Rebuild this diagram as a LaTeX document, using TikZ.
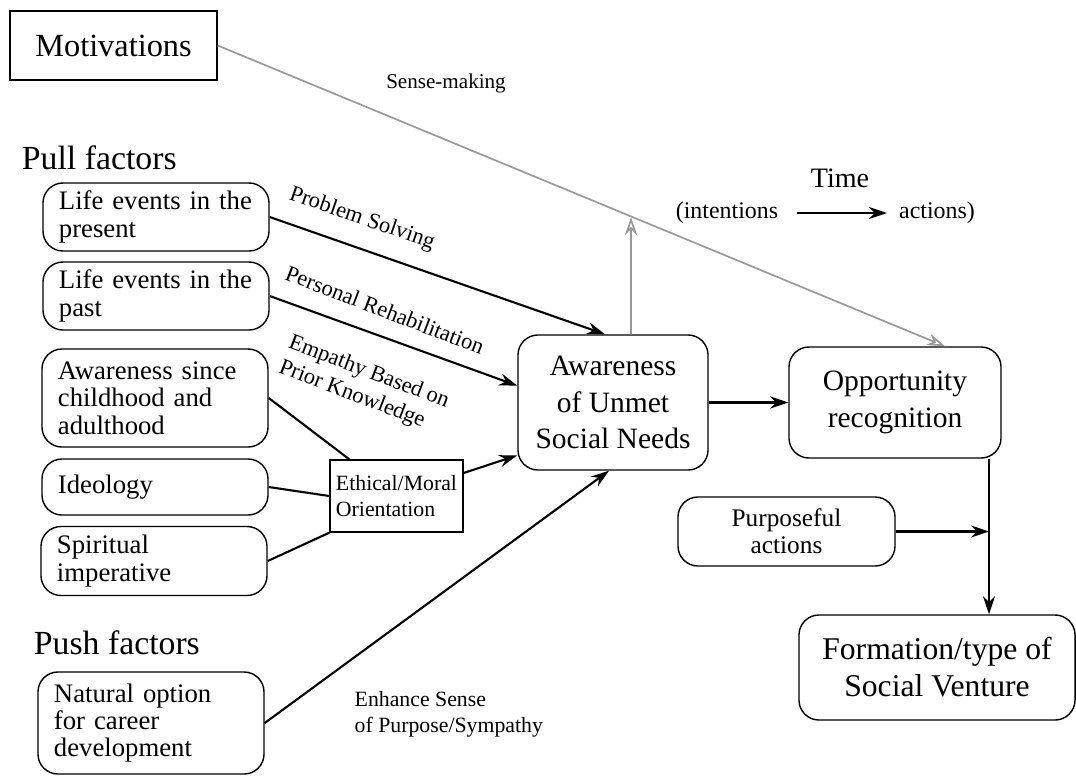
\documentclass[tikz,border=0pt]{standalone}
\usepackage{fontspec}
\setmainfont{Liberation Serif}
\usetikzlibrary{arrows.meta}

\def\s{0.025}
\def\ort#1#2{({(#1)*\s},{(-#2)*\s})}

\tikzset{
	faktor/.style={draw, line width=1pt, rounded corners=0.5cm, align=left,
		text width=4.85cm, inner xsep=0.4cm, font=\fontsize{19}{19.5}\selectfont},
	haupt/.style={draw, line width=1pt, rounded corners=0.5cm, align=center,
		font=\fontsize{21}{26.2}\selectfont},
	titel/.style={font=\fontsize{24}{28}\selectfont},
	klein/.style={font=\fontsize{16}{19}\selectfont, align=left, inner sep=1pt},
	pfeil/.style={-{Stealth[length=0.45cm,width=0.3cm]}, line width=1.5pt},
	grau/.style={-{Stealth[open,length=0.45cm,width=0.3cm]}, line width=1.2pt, black!40},
}

\begin{document}
\begin{tikzpicture}
\useasboundingbox \ort{0}{0} rectangle \ort{1076}{776};

% Kopf
\node[draw, line width=1pt, minimum width=5.175cm, minimum height=1.725cm,
	font=\fontsize{23}{26}\selectfont] (motiv) at \ort{113.5}{45.5} {Motivations};
\node[font=\fontsize{15}{18}\selectfont] (sinn) at \ort{446}{83} {Sense-making};
\node[titel, anchor=west] (zug) at \ort{17}{158} {Pull factors};
\node[titel, anchor=west] (druck) at \ort{29}{643} {Push factors};

% Faktoren
\node[faktor, minimum height=1.7cm] (gegenwart) at \ort{156}{217} {Life events in the\\present};
\node[faktor, minimum height=1.7cm] (vergangenheit) at \ort{156}{296} {Life events in the\\past};
\node[faktor, minimum height=2.45cm] (kindheit) at \ort{155}{398} {Awareness since\\childhood and\\adulthood};
\node[faktor, minimum height=1.4cm] (ideologie) at \ort{155}{487} {Ideology};
\node[faktor, minimum height=1.725cm] (spirituell) at \ort{154}{561} {Spiritual\\imperative};
\node[faktor, minimum height=2.55cm] (karriere) at \ort{151}{723} {Natural option\\for career\\development};

\node[draw, line width=1pt, align=left, minimum width=3.325cm, minimum height=1.8cm,
	inner xsep=0.15cm, font=\fontsize{15.5}{18.5}\selectfont] (ethik) at \ort{396.5}{496}
	{Ethical/Moral\\Orientation};

% Mitte und rechts
\node[haupt, minimum width=4.75cm, minimum height=3.375cm] (bewusstsein) at \ort{613}{402.5}
	{Awareness\\of Unmet\\Social Needs};
\node[haupt, minimum width=5.3cm, minimum height=2.775cm] (chance) at \ort{895}{402.5}
	{Opportunity\\recognition};
\node[haupt, minimum width=5.425cm, minimum height=1.725cm,
	font=\fontsize{18}{19}\selectfont] (zweck) at \ort{786.5}{531.5} {Purposeful\\actions};
\node[haupt, minimum width=6.9cm, minimum height=2.625cm,
	font=\fontsize{22.5}{26.2}\selectfont] (gruendung) at \ort{937}{667.5}
	{Formation/type of\\Social Venture};

% Zeit
\node[font=\fontsize{20}{24}\selectfont] (zeit) at \ort{840}{178} {Time};
\node[font=\fontsize{17}{20}\selectfont] (absicht) at \ort{727}{213} {(intentions};
\node[font=\fontsize{17}{20}\selectfont] (handlung) at \ort{937}{213} {actions)};
\draw[pfeil, shorten <=0.35cm, shorten >=0.18cm] (absicht.east) -- (handlung.west);

% Beschriftungen
\node[klein, rotate=-19] (problem) at \ort{362}{219} {Problem Solving};
\node[klein, rotate=-21] (reha) at \ort{385}{310} {Personal Rehabilitation};
\node[klein, rotate=-21] (empathie) at \ort{364}{385} {Empathy Based on\\Prior Knowledge};
\node[klein, anchor=west, font=\fontsize{15.5}{18.5}\selectfont] (sinnstiftung) at \ort{353}{714}
	{Enhance Sense\\of Purpose/Sympathy};

% Verbindungen
\path \ort{631}{217} coordinate (oben);
\path \ort{989}{531.5} coordinate (knoten);
\draw[grau] (motiv.east) -- ([xshift=1.25cm]chance.north);
\draw[grau] ([xshift=0.45cm]bewusstsein.north) -- (oben);
\draw[pfeil] (gegenwart.east) -- ([xshift=-0.2cm]bewusstsein.north);
\draw[pfeil] (vergangenheit.east) -- ([yshift=0.42cm]bewusstsein.west);
\draw[line width=1.5pt] (kindheit.east) -- ([xshift=0.5cm]ethik.north west);
\draw[line width=1.5pt] (ideologie.east) -- (ethik.west);
\draw[line width=1.5pt] (spirituell.east) -- (ethik.south west);
\draw[pfeil] ([yshift=0.575cm]ethik.east) -- ([yshift=-1.32cm]bewusstsein.west);
\draw[pfeil] (karriere.east) -- ([xshift=-0.1cm]bewusstsein.south);
\draw[pfeil] (bewusstsein.east) -- (chance.west);
\draw[pfeil] (chance.south -| knoten) -- (gruendung.north -| knoten);
\draw[pfeil] (zweck.east) -- (knoten);
\end{tikzpicture}
\end{document}
